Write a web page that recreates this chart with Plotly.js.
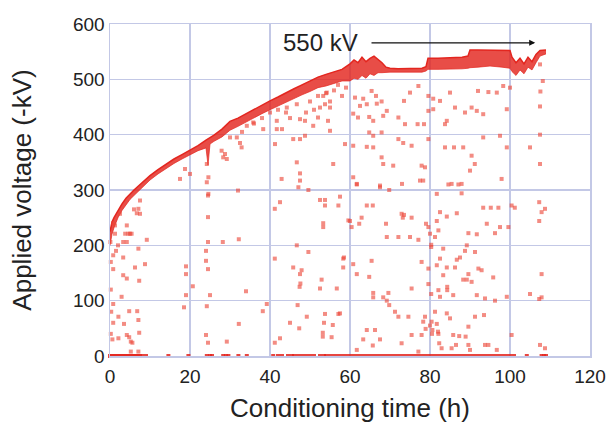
<!DOCTYPE html>
<html>
<head>
<meta charset="utf-8">
<script src="https://cdn.plot.ly/plotly-3.0.1.min.js"></script>
<style>html,body{margin:0;padding:0;background:#fff;}#chart{width:607px;height:423px;}</style>
</head>
<body>
<div id="chart"></div>
<script>
// Main conditioning envelope (band of dense points)
const bandTime = [0,0.5,1,2,3,4,5,6,8,10,12,14,16,18,20,22,24,24.5,25,26,28,30,32,34,36,38,40,42,44,46,48,50,52,54,56,58,60,61,62,63,64,65,66,67,68,69,70,72,75,78,79,79.5,82,85,88,89.5,90,92,95,98,100,100.5,101.5,102.5,103.5,104.5,105.5,106.5,107.5,109];
const bandTop  = [225,242,250,263,275,285,293,300,313,326,337,347,356,364,372,380,390,392,394,399,410,424,430,438,446,453,461,468,476,483,490,497,504,509,513,518,528,535,530,540,532,538,542,536,530,522,520,519,520,520,523,538,538,539,540,542,553,553,553,552,552,540,530,538,528,540,532,545,552,553];
const bandBottom=[200,220,232,250,263,274,283,290,304,318,329,339,348,356,364,371,376,345,383,388,396,408,415,423,431,438,445,452,458,465,472,478,485,488,492,497,497,502,500,507,502,510,507,512,512,513,513,513,513,513,515,518,518,518,519,520,521,522,524,522,520,514,507,517,510,522,517,530,542,546];

// Scattered breakdown / recovery points
const scatterTime = [
0.8,4.2,6,6.7,7.5,5.4,3.8,1.25,3.3,4.2,9.2,0.1,7.1,0.8,3.3,6.25,8.75,0.8,3.3,4.2,7.3,2.9,0.8,4.8,6.8,2.1,0.8,3.5,7.1,7.3,4.2,4.8,5.2,5.6,2.1,0.6,5.2,7.1,7.1,7.5,4.6,5.0,2.5,1.25,0.2,0.2,0.3,0.2,1.5,2.0,
24.2,24.5,32,24.5,24.5,28.2,32.2,24,24,24.5,19,19,20.7,19,25,34,18.5,24.2,38.2,39.2,32.2,24,24.5,29.2,17.5,18.75,20,24.2,28.75,29.2,31.7,32.5,32.9,34.2,35.8,38.3,27.9,28.3,24.6,24.6,
41.7,41.7,41.25,42.9,46.7,47.5,47.5,45.8,47.5,48.75,47.5,48.75,50.8,52.5,53.75,55,53.3,54.2,52,54.5,55,55.8,58.75,44.2,46.7,42.5,41.2,47.1,49.6,52.5,53.75,53.75,57.1,57.5,59.6,53.3,53.3,46.7,49.6,41.2,58.3,58.3,45.8,47.9,47.5,52.9,47.6,47.4,52.5,56.7,46.9,53.75,57.1,49.2,45,53.5,55.7,47.3,53.2,53.2,42.5,41.2,55.4,58.5,57.5,
30,33,36,38,40,42,44,45,50,52,54,56,58,43,49,51,55,57,59,
61.7,67.5,69.8,78.3,81.7,84.6,87.1,87.9,64.2,65.7,93.3,95.2,97.1,100.4,101.2,107.3,107.9,108.75,107.3,72.9,73.5,73.2,75.4,62.9,60,62.3,69,60.4,79,79.6,81.7,82.5,84.2,86.7,82.1,80,81.25,89.6,91.7,94.2,96.25,97.5,99.6,69.2,72.1,75,77.1,80.3,80.3,83.3,89.2,88.75,91.25,65.4,77.9,82.5,86.7,87.5,60.8,79.6,81.7,84.2,86.25,92.1,92.9,107.9,61.7,64.8,89.6,83.3,88.3,89.2,90.4,95.8,79.6,82.1,84.3,84.3,75.4,65.8,69.6,65.8,68.3,69.2,69.8,80.3,82.5,85.8,91.7,93.75,96.25,99.2,105,107.3,107.9,71.25,72.1,74.6,78.75,78.3,80.4,80,81.25,81.7,84.2,85,91.25,93.5,64.2,66.25,78.9,80.6,82,80.5,82.1,89.6,75.4,77.9,63.3,67.5,85.8,87.3,88.9,100.4,61.7,65.7,72.9,82.3,82.9,85.4,86.5,89.6,90,93.75,94.6,96.7,77.1,107.5,108.75,
65.4,66.5,67.9,66.7,61.25,63.3,64.2,62.5,75,77.1,73.5,79.6,80.8,82.5,85,92,94.6,96.7,98.3,100,107.5,108.2,107.6,107.5,60.8,62,64.8,65.8,64.8,65.8,69.2,68.3,72.1,73.75,76.9,78.5,79.6,80.8,84.2,83.75,86.25,90.4,91.7,93.3,99.2,88.75,67.9,72.1,73.3,75.4,79.6,60.8,64.2,65.8,67.9,68.3,70.8,77.9,78.75,83.75,86,88.3,90.4,91.2,90,93.3,97.5,99.2,105,107.5,107.5,97.9,60.8,61.7,77.5,85.4,87.9,67.5,73
];
const scatterVolt = [
240,236,265,258,281,221,221,221,206,206,210,206,194,182,178,160,166,157,146,140,136,107,94,81,81,71,60,58,65,42,38,34,26,24,32,30,8,8,266,257,221,221,257,236,120,170,80,40,190,200,
314,290,299,251,206,206,211,190,172,157,162,148,126,110,110,117,88,90,81,94,58,38,24,26,320,338,329,347,365,356,395,385,377,416,422,410,371,359,323,293,
425,410,383,320,350,330,317,392,392,398,428,425,416,449,455,449,470,476,431,425,407,347,383,449,455,278,266,305,300,282,282,272,272,288,245,240,233,200,188,176,176,160,160,155,148,138,131,125,122,122,92,76,76,71,60,60,56,50,42,35,32,24,34,178,77,
395,405,420,430,440,445,440,430,460,470,475,480,470,410,440,445,460,490,485,
310,305,300,317,293,310,310,294,272,272,268,268,268,272,268,278,260,266,244,257,255,250,250,250,244,239,239,233,239,233,244,260,252,258,227,221,215,222,220,239,222,233,233,215,215,215,210,201,197,194,200,190,188,172,170,176,174,178,166,158,164,160,160,158,155,148,148,143,148,146,138,138,134,142,130,119,125,119,122,114,114,106,106,100,92,112,107,110,110,104,100,107,112,103,106,80,71,71,71,62,62,55,80,58,77,68,71,74,47,47,49,47,44,40,40,53,38,38,30,30,38,36,35,38,11,19,23,23,14,14,20,20,11,20,20,11,8,20,14,
479,470,460,456,467,465,455,452,476,488,461,470,465,461,476,479,477,476,488,485,527,497,478,451,438,431,432,425,404,398,443,434,431,419,419,419,443,446,425,419,449,449,443,437,446,440,404,392,385,380,392,380,378,377,359,347,344,344,341,377,377,377,362,347,335,395,398,377,377,400,347,320,323,311,317,311,311,308,311
];

// Times at which the voltage fell to zero (trips)
const zeroTime = [0,0.5,1,1.5,2,2.5,3,3.5,4,4.5,5,5.5,6,6.5,7,7.5,8,9,14.6,19.6,24.2,25,25.5,28.3,29,29.6,32.1,34.2,40.8,42,43,44.5,45.5,46,47,48,49,50,51,52.5,53.5,54,55,56,57,58,59,60,61,62,63,64,65,66,67,68,69,70,71,72,73,74,75,76,77,78,79,80,81,82,83,84,85,86,87,88,89,90,91,92,93,94,95,96,97,98,99,100,101,104.2,107.9,108.5,109];
const zeroVolt = zeroTime.map(() => 0);

const xTicks = [0,20,40,60,80,100,120];
const yTicks = [0,100,200,300,400,500,600];

const red = '#e3261f';
const traces = [
  {x: bandTime, y: bandBottom, type: 'scatter', mode: 'lines', line: {color: 'rgba(227,38,31,0.7)', width: 1}, hoverinfo: 'skip', cliponaxis: false},
  {x: bandTime, y: bandTop, type: 'scatter', mode: 'lines', fill: 'tonexty', fillcolor: 'rgba(227,38,31,0.82)', line: {color: red, width: 1.5}, hoverinfo: 'skip', cliponaxis: false},
  {x: scatterTime, y: scatterVolt, type: 'scatter', mode: 'markers', marker: {symbol: 'square', size: 4, color: 'rgba(236,70,55,0.62)'}, cliponaxis: false},
  {x: zeroTime, y: zeroVolt, type: 'scatter', mode: 'markers', marker: {symbol: 'square', size: 4, color: 'rgba(227,38,31,0.85)'}, cliponaxis: false}
];

const gridCol = '#c3c8e6';
const layout = {
  width: 607, height: 423,
  margin: {l: 110, r: 17, t: 24, b: 67},
  paper_bgcolor: '#fff', plot_bgcolor: '#fff',
  showlegend: false,
  font: {family: 'Liberation Sans, Arial, sans-serif', color: '#222'},
  xaxis: {
    range: [0, 120], tickvals: xTicks, ticktext: xTicks.map(String),
    showgrid: true, gridcolor: gridCol, gridwidth: 1.5,
    zeroline: false, showline: true, linecolor: gridCol, linewidth: 1.5, mirror: true,
    ticks: '', tickfont: {size: 19, color: '#222'}, ticklabelstandoff: 3,
    title: {text: 'Conditioning time (h)', font: {size: 26, color: '#222'}, standoff: 12}
  },
  yaxis: {
    range: [0, 600], tickvals: yTicks, ticktext: yTicks.map(String),
    showgrid: true, gridcolor: gridCol, gridwidth: 1.5,
    zeroline: false, showline: true, linecolor: gridCol, linewidth: 1.5, mirror: true,
    ticks: '', tickfont: {size: 19, color: '#222'},
    title: {text: 'Applied voltage (-kV)', font: {size: 26, color: '#222'}, standoff: 34}
  },
  annotations: [{
    x: 106.3, y: 566, xref: 'x', yref: 'y',
    ax: 65, ay: 566, axref: 'x', ayref: 'y',
    showarrow: true, arrowhead: 2, arrowsize: 1, arrowwidth: 1.2, arrowcolor: '#111', text: ''
  }, {
    x: 52.5, y: 566, xref: 'x', yref: 'y', text: '550 kV', showarrow: false,
    font: {size: 24, color: '#222'}
  }]
};

Plotly.newPlot('chart', traces, layout, {displayModeBar: false, staticPlot: true});
</script>
</body>
</html>
